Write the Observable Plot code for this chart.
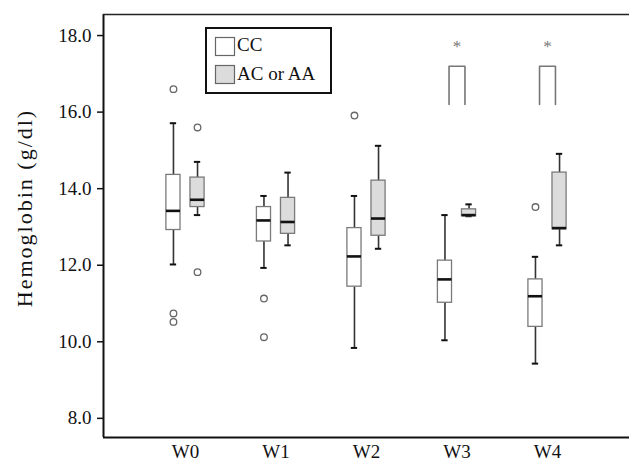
<!DOCTYPE html>
<html>
<head>
<meta charset="utf-8">
<script src="https://cdn.jsdelivr.net/npm/d3@7"></script>
<script src="https://cdn.jsdelivr.net/npm/@observablehq/plot@0.6"></script>
<style>
  html, body { margin: 0; padding: 0; background: #fff; }
  #chart { position: relative; width: 630px; height: 461px; }
  #chart svg, #chart svg text { font-family: "Liberation Serif", "DejaVu Serif", serif !important; }
</style>
</head>
<body>
<div id="chart"></div>
<script>
// ---- data ----
const weeks = ["W0", "W1", "W2", "W3", "W4"];
const groups = ["CC", "AC or AA"];
const yTicks = [8, 10, 12, 14, 16, 18];

const ccMin = [12.02, 11.93, 9.84, 10.04, 9.43];
const ccQ1  = [12.92, 12.62, 11.44, 11.02, 10.39];
const ccMed = [13.42, 13.17, 12.23, 11.63, 11.19];
const ccQ3  = [14.36, 13.52, 12.97, 12.12, 11.63];
const ccMax = [15.71, 13.81, 13.81, 13.31, 12.22];

const acMin = [13.31, 12.52, 12.43, 13.28, 12.52];
const acQ1  = [13.52, 12.82, 12.77, 13.28, 12.94];
const acMed = [13.71, 13.13, 13.22, 13.31, 12.97];
const acQ3  = [14.29, 13.76, 14.21, 13.46, 14.42];
const acMax = [14.70, 14.42, 15.12, 13.59, 14.91];

const outlierWeek  = ["W0", "W0", "W0", "W1", "W1", "W2", "W4", "W0", "W0"];
const outlierGroup = ["CC", "CC", "CC", "CC", "CC", "CC", "CC", "AC or AA", "AC or AA"];
const outlierValue = [16.6, 10.74, 10.52, 11.13, 10.12, 15.91, 13.52, 15.6, 11.82];

const sigWeeks = ["W3", "W4"];
const sigLow = 16.2, sigHigh = 17.2, sigStar = 17.7;

// ---- build tables ----
const OFF = 0.133, HW = 0.078, CAP = 0.035, BR = 0.088;
const boxes = weeks.flatMap((w, i) => [
  {week: w, i, g: "CC", off: -1, min: ccMin[i], q1: ccQ1[i], med: ccMed[i], q3: ccQ3[i], max: ccMax[i]},
  {week: w, i, g: "AC or AA", off: 1, min: acMin[i], q1: acQ1[i], med: acMed[i], q3: acQ3[i], max: acMax[i]}
]);
const xc = d => d.i + d.off * OFF;
const outliers = outlierValue.map((v, k) => ({
  i: weeks.indexOf(outlierWeek[k]), off: outlierGroup[k] === "CC" ? -1 : 1, v
}));
const sig = sigWeeks.map(w => ({i: weeks.indexOf(w)}));
const bracket = sig.flatMap((s, k) => [
  {k, x: s.i - BR, y: sigLow}, {k, x: s.i - BR, y: sigHigh},
  {k, x: s.i + BR, y: sigHigh}, {k, x: s.i + BR, y: sigLow}
]);

const fillOf = g => g === "CC" ? "#ffffff" : "#dcdcdc";
const FONT = "Liberation Serif, DejaVu Serif, serif";

const plot = Plot.plot({
  width: 630,
  height: 461,
  marginLeft: 103,
  marginRight: 1,
  marginTop: 14,
  marginBottom: 24,
  style: {fontFamily: FONT, background: "#fff", color: "#111"},
  x: {domain: [-0.906, 4.906]},
  y: {domain: [7.5, 18.55]},
  marks: [
    // frame (left, top, bottom)
    Plot.ruleX([-0.906], {stroke: "#111", strokeWidth: 2}),
    Plot.ruleY([7.5], {stroke: "#111", strokeWidth: 2}),
    Plot.ruleY([18.55], {stroke: "#222", strokeWidth: 1.5}),
    // axes
    Plot.axisY({ticks: yTicks, tickFormat: d3.format(".1f"), tickSize: 6, tickPadding: 6,
      fontSize: 19, label: null, stroke: "#111", strokeWidth: 1.5}),
    Plot.axisX({ticks: weeks.map((w, i) => i), tickFormat: i => weeks[i], tickSize: 0,
      tickPadding: 7, fontSize: 19, label: null}),
    // whiskers
    Plot.ruleX(boxes, {x: xc, y1: "min", y2: "q1", stroke: "#333", strokeWidth: 1.6}),
    Plot.ruleX(boxes, {x: xc, y1: "q3", y2: "max", stroke: "#333", strokeWidth: 1.6}),
    Plot.ruleY(boxes, {y: "min", x1: d => xc(d) - CAP, x2: d => xc(d) + CAP, stroke: "#111", strokeWidth: 2}),
    Plot.ruleY(boxes, {y: "max", x1: d => xc(d) - CAP, x2: d => xc(d) + CAP, stroke: "#111", strokeWidth: 2}),
    // boxes
    Plot.rect(boxes, {x1: d => xc(d) - HW, x2: d => xc(d) + HW, y1: "q1", y2: "q3",
      fill: d => fillOf(d.g), stroke: "#7a7a7a", strokeWidth: 1.3}),
    // medians
    Plot.ruleY(boxes, {y: "med", x1: d => xc(d) - HW, x2: d => xc(d) + HW, stroke: "#111", strokeWidth: 2.6}),
    // outliers
    Plot.dot(outliers, {x: d => d.i + d.off * OFF, y: "v", r: 3.3, stroke: "#666", strokeWidth: 1.3, fill: "#fff"}),
    // significance brackets and stars
    Plot.line(bracket, {x: "x", y: "y", z: "k", stroke: "#777", strokeWidth: 1.6}),
    Plot.text(sig, {x: "i", y: () => sigStar, text: () => "*", fill: "#777", fontSize: 17}),
    // y label
    Plot.text(["Hemoglobin (g/dl)"], {frameAnchor: "left", dx: -79, dy: -18, rotate: -90,
      fontSize: 22, fill: "#111", textAnchor: "middle", lineAnchor: "middle"})
  ]
});

document.getElementById("chart").appendChild(plot);

// letter-spacing for the rotated y label (as in the reference)
d3.select(plot).selectAll("text").filter(function () { return this.textContent === "Hemoglobin (g/dl)"; })
  .attr("letter-spacing", 2);

// legend (inside the plot area)
const svg = d3.select(plot);
const lg = svg.append("g").attr("fill", "#111").attr("text-anchor", "start");
lg.append("rect").attr("x", 206).attr("y", 28).attr("width", 125).attr("height", 65)
  .attr("fill", "#fff").attr("stroke", "#111").attr("stroke-width", 2);
groups.forEach((g, k) => {
  lg.append("rect").attr("x", 215.5).attr("y", 37.5 + k * 28).attr("width", 19).attr("height", 18)
    .attr("fill", fillOf(g)).attr("stroke", "#666").attr("stroke-width", 1.2);
  lg.append("text").attr("x", 237).attr("y", 51 + k * 29).attr("font-size", 19)
    .attr("text-anchor", "start").text(g);
});
</script>
</body>
</html>
